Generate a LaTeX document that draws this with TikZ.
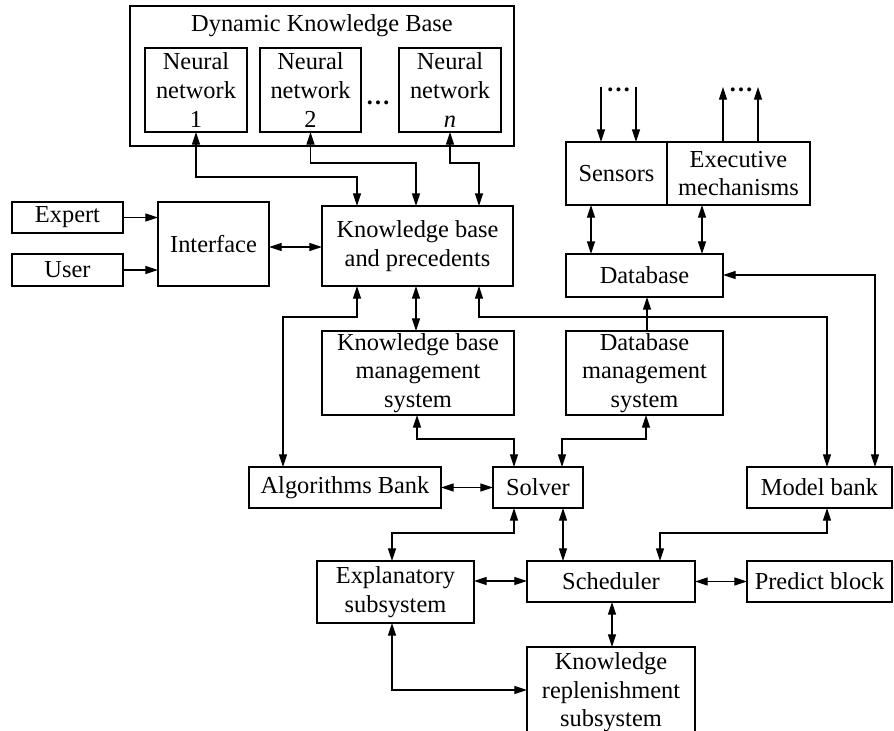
\documentclass[tikz,border=0pt]{standalone}
\usepackage{fontspec}
\setmainfont{Liberation Serif}
\usetikzlibrary{arrows.meta}
\begin{document}
\begin{tikzpicture}[x=0.75pt,y=-0.75pt,
  box/.style={draw, line width=0.8pt, inner sep=0pt, outer sep=0pt, align=center,
    font=\fontsize{18.3}{21.5}\selectfont},
  sz/.style 2 args={minimum width=#1*0.75pt, minimum height=#2*0.75pt},
  txt/.style={inner sep=0pt, font=\fontsize{18.3}{21.5}\selectfont},
  con/.style={line width=0.8pt},
  one/.style={con, -{Triangle[length=9.5pt,width=6pt]}},
  both/.style={con, {Triangle[length=9.5pt,width=6pt]}-{Triangle[length=9.5pt,width=6pt]}}
]
\useasboundingbox (0,0) rectangle (894,731);

% Dynamic knowledge base
\node[box, sz={384}{140}] (dkb) at (322,76) {};
\node[txt] (dkbt) at (322,26) {Dynamic Knowledge Base};
\node[box, sz={102}{84}] (nn1) at (196,90) {Neural\\network\\1};
\node[box, sz={101}{84}] (nn2) at (310.5,90) {Neural\\network\\2};
\node[box, sz={102}{84}] (nnn) at (450,90) {Neural\\network\\\textit{n}};
\node[txt] (dots1) at (378,103) {\textbf{…}};

% left inputs
\node[box, sz={111}{31}] (expert) at (67.5,217.5) {Expert};
\node[box, sz={111}{32}] (user) at (67.5,270) {User};
\node[box, sz={111}{84}] (interface) at (213.5,244) {Interface};
\node[box, sz={191}{80}] (kb) at (417.5,246) {Knowledge base\\and precedents};

% sensors / executive / database
\node[box, sz={101}{63}] (sensors) at (616.5,173.5) {Sensors};
\node[box, sz={143}{63}] (exec) at (738.5,173.5) {Executive\\mechanisms};
\node[box, sz={157}{43}] (db) at (644.5,275.5) {Database};
\coordinate (s1) at (601,87);
\coordinate (s2) at (636,87);
\coordinate (e1) at (723,87);
\coordinate (e2) at (758,87);
\node[txt] (dots2) at (618.5,90) {\textbf{…}};
\node[txt] (dots3) at (741,90) {\textbf{…}};

% management systems
\node[box, sz={192}{84}] (kbms) at (418,373) {Knowledge base\\management\\system};
\node[box, sz={157}{84}] (dbms) at (644.5,373) {Database\\management\\system};

% banks and solver
\node[box, sz={192}{41}] (alg) at (345,487.5) {Algorithms Bank};
\node[box, sz={90}{41}] (solver) at (538,487.5) {Solver};
\node[box, sz={145}{41}] (mb) at (819.5,487.5) {Model bank};

% lower row
\node[box, sz={157}{62}] (expl) at (395.5,592) {Explanatory\\subsystem};
\node[box, sz={168}{41}] (sched) at (611,581.5) {Scheduler};
\node[box, sz={145}{41}] (pred) at (819.5,581.5) {Predict block};
\node[box, sz={168}{91}] (kr) at (611,692.5) {Knowledge\\replenishment\\subsystem};

% connectors: neural networks <-> KB
\draw[both] (nn1.south) -- (nn1.south |- 0,177) -| (kb.north -| 357,0);
\draw[both] (nn2.south) -- (nn2.south |- 0,163) -| (kb.north -| 416,0);
\draw[both] (nnn.south) -- (nnn.south |- 0,163) -| (kb.north -| 479,0);

% inputs
\draw[one] (expert.east) -- (interface.west |- expert.east);
\draw[one] (user.east) -- (interface.west |- user.east);
\draw[both] (interface.east |- 0,247) -- (kb.west |- 0,247);

% sensors / executive
\draw[one] (s1) -- (sensors.north -| s1);
\draw[one] (s2) -- (sensors.north -| s2);
\draw[one] (exec.north -| e1) -- (e1);
\draw[one] (exec.north -| e2) -- (e2);
\draw[both] (sensors.south -| 591,0) -- (db.north -| 591,0);
\draw[both] (exec.south -| 702,0) -- (db.north -| 702,0);

% KB bottom
\draw[both] (kb.south -| 357,0) -- (357,317) -| (alg.north -| 283,0);
\draw[both] (kb.south -| 416,0) -- (kbms.north -| 416,0);
\draw[both] (kb.south -| 479,0) -- (479,317) -| (mb.north -| 827,0);
\draw[one] (dbms.north -| 647,0) -- (db.south -| 647,0);
\draw[both] (db.east |- 0,275) -| (mb.north -| 875,0);

% management -> solver
\draw[both] (kbms.south -| 417,0) -- (417,439) -| (solver.north -| 514,0);
\draw[both] (dbms.south -| 646,0) -- (646,439) -| (solver.north -| 562,0);
\draw[both] (alg.east) -- (solver.west);

% solver / model bank -> lower row
\draw[both] (solver.south -| 514,0) -- (514,533) -| (expl.north -| 392,0);
\draw[both] (solver.south -| 563,0) -- (sched.north -| 563,0);
\draw[both] (mb.south -| 827,0) -- (827,533) -| (sched.north -| 660,0);
\draw[both] (expl.east |- 0,581) -- (sched.west |- 0,581);
\draw[both] (sched.east) -- (pred.west);
\draw[both] (sched.south -| 612,0) -- (kr.north -| 612,0);
\draw[both] (expl.south -| 392,0) |- (kr.west |- 0,690);
\end{tikzpicture}
\end{document}
